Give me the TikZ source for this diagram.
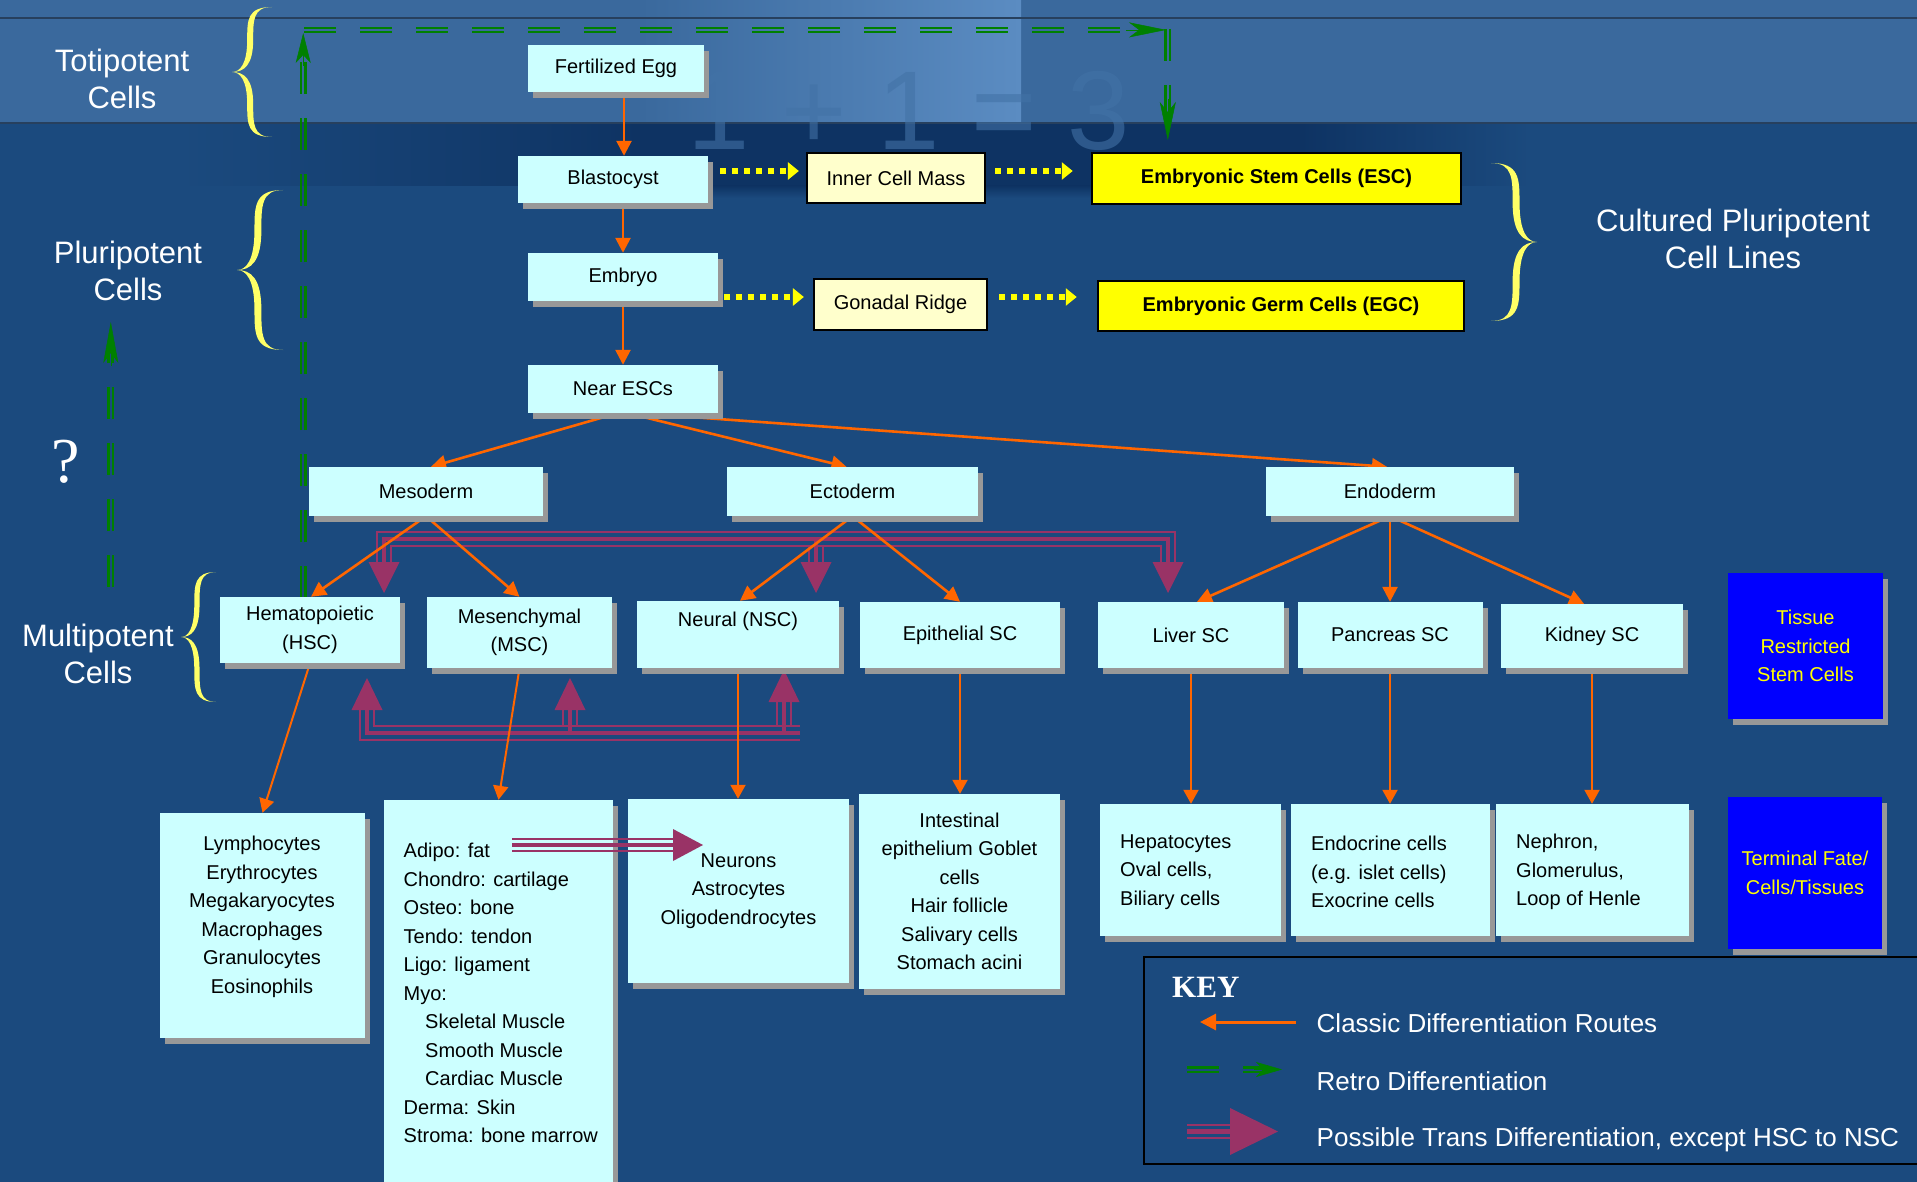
\documentclass[tikz,border=0pt]{standalone}
\usepackage{fontspec}
\setmainfont{Liberation Sans}
\newfontfamily\serifface{Liberation Serif}
\usetikzlibrary{arrows.meta,shadows,calc}
\pgfdeclarelayer{background}
\pgfdeclarelayer{conn}
\pgfsetlayers{background,conn,main}

\definecolor{bgc}{HTML}{1B4A7E}
\definecolor{bandc}{HTML}{3A699D}
\definecolor{bandlight}{HTML}{5B8CC2}
\definecolor{bandline}{HTML}{27405E}
\definecolor{navy}{HTML}{0E3363}
\definecolor{cyanbox}{HTML}{CCFFFF}
\definecolor{shadowc}{HTML}{989898}
\definecolor{cream}{HTML}{FFFFCC}
\definecolor{yel}{HTML}{FFFF00}
\definecolor{bluebox}{HTML}{0000FF}
\definecolor{orng}{HTML}{FF6600}
\definecolor{purp}{HTML}{993366}
\definecolor{grn}{HTML}{008000}
\definecolor{bracec}{HTML}{FFFF66}
\definecolor{wm}{HTML}{4272A6}

\newcommand\boxfont{\fontsize{20pt}{28.5pt}\selectfont}
\newcommand\bigfont{\fontsize{31pt}{37pt}\selectfont}

\newcommand\ybrace[4]{%
\begin{scope}[shift={(#1,#2)}, xscale=#3, yscale=#4]
\fill[bracec] (1,-1) .. controls (0.38,-1) and (0.38,-0.8) .. (0.38,-0.5)
 .. controls (0.38,-0.12) and (0.2,0) .. (0,0)
 .. controls (0.2,0) and (0.38,0.12) .. (0.38,0.5)
 .. controls (0.38,0.8) and (0.38,1) .. (1,1)
 .. controls (0.53,1) and (0.53,0.8) .. (0.53,0.5)
 .. controls (0.53,0.1) and (0.3,0) .. (0,0)
 .. controls (0.3,0) and (0.53,-0.1) .. (0.53,-0.5)
 .. controls (0.53,-0.8) and (0.53,-1) .. (1,-1) -- cycle;
\end{scope}}

\tikzset{
  cbox/.style={rectangle, inner sep=0pt, fill=cyanbox, font=\boxfont, align=center,
    drop shadow={shadow xshift=5pt, shadow yshift=-6pt, fill=shadowc, opacity=1}},
  crbox/.style={rectangle, inner sep=0pt, fill=cream, draw=black, line width=2.2pt, font=\boxfont},
  ybox/.style={rectangle, inner sep=0pt, fill=yel, draw=black, line width=2.5pt, font=\boxfont\bfseries},
  bbox/.style={rectangle, inner sep=0pt, fill=bluebox, text=yel, font=\boxfont, align=center,
    drop shadow={shadow xshift=5pt, shadow yshift=-6pt, fill=shadowc, opacity=1}},
  lbl/.style={inner sep=0pt, font=\boxfont, align=center},
  lbll/.style={inner sep=0pt, font=\boxfont, align=left, anchor=west},
  bigtxt/.style={inner sep=0pt, text=white, font=\bigfont, align=center},
  legtxt/.style={inner sep=0pt, text=white, font=\fontsize{26pt}{30pt}\selectfont, anchor=base west},
  oarr/.style={draw=orng, line width=2.6pt, -{Triangle[length=15pt,width=15pt]}},
  oarrt/.style={draw=orng, line width=2pt, -{Triangle[length=14pt,width=15pt]}},
  ydot/.style={draw=yel, line width=6pt, dash pattern=on 6pt off 6pt, -{Triangle[length=11pt,width=17pt]}},
  gline/.style={draw=grn, line width=2.4pt, dash pattern=on 32pt off 24pt},
  pthin/.style={draw=purp, line width=2.2pt},
  pthick/.style={draw=purp, line width=4.5pt},
}

\begin{document}
\begin{tikzpicture}[x=1pt, y=-1pt]
\useasboundingbox (0,0) rectangle (1917,1182);

% ---------- background ----------
\begin{pgfonlayer}{background}
\fill[bgc] (0,0) rectangle (1917,1182);
\fill[bandc] (0,0) rectangle (1917,123);
\shade[left color=bandc, right color=bandlight] (640,0) rectangle (1021,123);
\shade[left color=bgc, right color=navy] (180,124) rectangle (640,186);
\fill[navy] (640,124) rectangle (1300,186);
\shade[left color=navy, right color=bgc] (1300,124) rectangle (1530,186);
\shade[top color=navy, bottom color=bgc] (640,186) rectangle (1300,198);
\draw[bandline, line width=2pt] (0,18) -- (1917,18);
\draw[bandline, line width=2pt] (0,123) -- (1917,123);
\node[text=wm, opacity=0.6, font=\fontsize{112pt}{112pt}\selectfont, inner sep=0pt] (wmark) at (909,111) {1 + 1 = 3};
\end{pgfonlayer}

% ---------- braces and side labels ----------
\ybrace{232}{72}{40}{65}
\ybrace{237}{270}{46}{80}
\ybrace{181}{637}{35}{65}
\ybrace{1537}{242}{-46}{79}

\node[bigtxt] (toti) at (122,79) {Totipotent\\Cells};
\node[bigtxt] (pluri) at (128,271) {Pluripotent\\Cells};
\node[bigtxt] (multi) at (98,654) {Multipotent\\Cells};
\node[bigtxt] (cult) at (1733,239) {Cultured Pluripotent\\Cell Lines};
\node[text=white, font=\serifface\fontsize{64pt}{64pt}\selectfont, inner sep=0pt] (qm) at (66,462) {?};

% ---------- boxes ----------
\node[cbox, minimum width=176pt, minimum height=47pt] (fegg) at (616,68.5) {Fertilized Egg};
\node[cbox, minimum width=190pt, minimum height=47pt] (blast) at (613,179.5) {Blastocyst};
\node[cbox, minimum width=190pt, minimum height=48pt] (embryo) at (623,277) {Embryo};
\node[cbox, minimum width=190pt, minimum height=48pt] (nesc) at (623,389) {Near ESCs};
\node[crbox, minimum width=178pt, minimum height=50pt] (icm) at (896,178) {Inner Cell Mass};
\node[crbox, minimum width=173pt, minimum height=51pt] (gonad) at (900.5,304.5) {Gonadal Ridge};
\node[ybox, minimum width=369pt, minimum height=51pt] (esc) at (1276.5,178.5) {Embryonic Stem Cells (ESC)};
\node[ybox, minimum width=366pt, minimum height=50pt] (egc) at (1281,306) {Embryonic Germ Cells (EGC)};

\node[cbox, minimum width=234pt, minimum height=49pt] (meso) at (426,491.5) {Mesoderm};
\node[cbox, minimum width=251pt, minimum height=49pt] (ecto) at (852.5,491.5) {Ectoderm};
\node[cbox, minimum width=248pt, minimum height=49pt] (endo) at (1390,491.5) {Endoderm};

\node[cbox, minimum width=180pt, minimum height=66pt] (hsc) at (310,630) {Hematopoietic\\(HSC)};
\node[cbox, minimum width=185pt, minimum height=71pt] (msc) at (519.5,632.5) {Mesenchymal\\(MSC)};
\node[cbox, minimum width=202pt, minimum height=67pt] (nsc) at (738,634.5) {};
\node[lbl] (nsct) at (738,621) {Neural (NSC)};
\node[cbox, minimum width=200pt, minimum height=66pt] (epi) at (960,635) {Epithelial SC};
\node[cbox, minimum width=186pt, minimum height=66pt] (liver) at (1191,635) {Liver SC};
\node[cbox, minimum width=185pt, minimum height=66pt] (panc) at (1390,635) {Pancreas SC};
\node[cbox, minimum width=182pt, minimum height=64pt] (kidney) at (1592,636) {Kidney SC};
\node[bbox, minimum width=155pt, minimum height=146pt] (tissue) at (1805.5,646) {Tissue\\Restricted\\Stem Cells};

\node[cbox, minimum width=205pt, minimum height=225pt] (lymph) at (262.5,925.5) {};
\node[lbl] (lympht) at (262,917) {Lymphocytes\\Erythrocytes\\Megakaryocytes\\Macrophages\\Granulocytes\\Eosinophils};
\node[cbox, minimum width=229pt, minimum height=400pt] (adipo) at (498.5,1000) {};
\node[lbll] (adipot) at (403.5,993) {Adipo: fat\\Chondro: cartilage\\Osteo: bone\\Tendo: tendon\\Ligo: ligament\\Myo:\\\hspace*{21.5pt}Skeletal Muscle\\\hspace*{21.5pt}Smooth Muscle\\\hspace*{21.5pt}Cardiac Muscle\\Derma: Skin\\Stroma: bone marrow};
\node[cbox, minimum width=221pt, minimum height=184pt] (neur) at (738.5,891) {Neurons\\Astrocytes\\Oligodendrocytes};
\node[cbox, minimum width=201pt, minimum height=195pt] (intest) at (959.5,891.5) {Intestinal\\epithelium Goblet\\cells\\Hair follicle\\Salivary cells\\Stomach acini};
\node[cbox, minimum width=181pt, minimum height=132pt] (hepat) at (1190.5,870) {};
\node[lbll] (hepatt) at (1120,872) {Hepatocytes\\Oval cells,\\Biliary cells};
\node[cbox, minimum width=199pt, minimum height=132pt] (endoc) at (1390,870) {};
\node[lbll] (endoct) at (1311,872) {Endocrine cells\\(e.g. islet cells)\\Exocrine cells};
\node[cbox, minimum width=193pt, minimum height=132pt] (nephr) at (1592.5,870) {};
\node[lbll] (nephrt) at (1516,872) {Nephron,\\Glomerulus,\\Loop of Henle};
\node[bbox, minimum width=154pt, minimum height=152pt] (term) at (1805,873) {Terminal Fate/\\Cells/Tissues};

% ---------- key ----------
\node[draw=black, line width=2pt, minimum width=781pt, minimum height=207pt, inner sep=0pt] (key) at (1534.5,1060.5) {};
\node[anchor=west, text=white, font=\serifface\bfseries\fontsize{31pt}{31pt}\selectfont, inner sep=0pt] (keyt) at (1172,987) {KEY};
\coordinate (lo1) at (1296,1022);
\coordinate (lo2) at (1200,1022);
\draw[draw=orng, line width=3pt, -{Triangle[length=16pt,width=16pt]}] (lo1) -- (lo2);
\node[legtxt] (leg1) at (1316.5,1032) {Classic Differentiation Routes};
\draw[grn, line width=2.4pt] (1187,1067.3) -- (1219,1067.3);
\draw[grn, line width=2.4pt] (1187,1071.8) -- (1219,1071.8);
\draw[grn, line width=2.4pt] (1243,1067.3) -- (1262,1067.3);
\draw[grn, line width=2.4pt] (1243,1071.8) -- (1262,1071.8);
\coordinate (lg1) at (1254,1069.5);
\coordinate (lg2) at (1282,1069.5);
\draw[grn, line width=0.5pt, -{Stealth[length=26pt,width=15pt,inset=7pt]}] (lg1) -- (lg2);
\node[legtxt] (leg2) at (1316.5,1090) {Retro Differentiation};
\draw[pthin] (1187,1125) -- (1233,1125);
\draw[pthick] (1187,1131.5) -- (1233,1131.5);
\draw[pthin] (1187,1138) -- (1233,1138);
\fill[purp] (1230,1108) -- (1230,1155) -- (1278,1131.5) -- cycle;
\node[legtxt] (leg3) at (1316.5,1146) {Possible Trans Differentiation, except HSC to NSC};

% ---------- trans differentiation: adipo -> neurons (on top of boxes) ----------
\draw[pthin] (512,839) -- (675,839);
\draw[pthick] (512,845) -- (675,845);
\draw[pthin] (512,851) -- (675,851);
\fill[purp] (673,829) -- (673,861) -- (703,845) -- cycle;

% ---------- connectors ----------
\begin{pgfonlayer}{conn}
% retro differentiation (green)
\draw[gline] (301,598) -- (301,62);
\draw[gline] (305.5,598) -- (305.5,62);
\draw[grn, line width=0.5pt, -{Stealth[length=30pt,width=15pt,inset=8pt]}] (303.2,66) -- (303.2,33);
\draw[gline] (304,27.8) -- (1130,27.8);
\draw[gline] (304,32) -- (1130,32);
\draw[grn, line width=0.5pt, -{Stealth[length=37pt,width=15pt,inset=10pt]}] (1126,29.9) -- (1166,29.9);
\draw[gline] (1165.5,29) -- (1165.5,117);
\draw[gline] (1170,29) -- (1170,117);
\draw[grn, line width=0.5pt, -{Stealth[length=38pt,width=16pt,inset=10pt]}] (1167.8,99) -- (1167.8,140);
\draw[gline] (108.5,587) -- (108.5,352);
\draw[gline] (113,587) -- (113,352);
\draw[grn, line width=0.5pt, -{Stealth[length=41pt,width=15pt,inset=10pt]}] (110.8,366) -- (110.8,322);

% trans differentiation (purple), top bus
\draw[pthin] (377,563) -- (377,532) -- (1175,532) -- (1175,563);
\draw[pthick] (384,563) -- (384,539) -- (1168,539) -- (1168,563);
\draw[pthin] (391,563) -- (391,546) -- (1161,546) -- (1161,563);
\draw[pthin] (809,546) -- (809,563);
\draw[pthick] (816,539) -- (816,563);
\draw[pthin] (823,546) -- (823,563);
\fill[purp] (368.5,562) -- (399.5,562) -- (384,593) -- cycle;
\fill[purp] (800.5,562) -- (831.5,562) -- (816,593) -- cycle;
\fill[purp] (1152.5,562) -- (1183.5,562) -- (1168,593) -- cycle;
% bottom bus
\draw[pthin] (360,709) -- (360,740) -- (800,740);
\draw[pthick] (367,709) -- (367,733) -- (800,733);
\draw[pthin] (374,709) -- (374,726) -- (800,726);
\draw[pthin] (563,726) -- (563,709);
\draw[pthick] (570,733) -- (570,709);
\draw[pthin] (577,726) -- (577,709);
\draw[pthin] (777,726) -- (777,701);
\draw[pthick] (784,733) -- (784,701);
\draw[pthin] (791,726) -- (791,701);
\fill[purp] (351.5,710) -- (382.5,710) -- (367,678) -- cycle;
\fill[purp] (554.5,710) -- (585.5,710) -- (570,678) -- cycle;
\fill[purp] (768.5,702) -- (799.5,702) -- (784,670) -- cycle;

% classic differentiation (orange)
\draw[oarr] ([xshift=8pt]fegg.south) -- ([xshift=8pt]fegg.south |- blast.north);
\draw[oarr] (embryo.north |- blast.south) -- (embryo.north);
\draw[oarr] (embryo.south) -- (nesc.north);
\draw[oarr] ([xshift=-16pt,yshift=-3pt]nesc.south) -- ([xshift=5pt]meso.north);
\draw[oarr] ([xshift=17pt,yshift=-3pt]nesc.south) -- ([xshift=-6pt]ecto.north);
\draw[oarr] ([xshift=56pt,yshift=-3pt]nesc.south) -- ([xshift=-3pt]endo.north);
\draw[oarr] (meso.south) -- ([xshift=1pt]hsc.north);
\draw[oarr] (meso.south) -- (msc.north);
\draw[oarr] (ecto.south) -- ([xshift=2pt]nsc.north);
\draw[oarr] (ecto.south) -- (epi.north);
\draw[oarr] (endo.south) -- ([xshift=6pt]liver.north);
\draw[oarr] (endo.south) -- (panc.north);
\draw[oarr] (endo.south) -- ([xshift=-8pt]kidney.north);
\draw[oarrt] (hsc.south) -- (lymph.north);
\draw[oarrt] (msc.south) -- (adipo.north);
\draw[oarrt] (nsc.south) -- (nsc.south |- neur.north);
\draw[oarrt] (epi.south) -- (epi.south |- intest.north);
\draw[oarrt] (liver.south) -- (liver.south |- hepat.north);
\draw[oarrt] (panc.south) -- (panc.south |- endoc.north);
\draw[oarrt] (kidney.south) -- (kidney.south |- nephr.north);

% derivation (yellow dotted)
\draw[ydot, shorten <=12pt, shorten >=7pt] ([yshift=8.5pt]blast.east) -- ([yshift=8.5pt]blast.east -| icm.west);
\draw[ydot, shorten <=9pt, shorten >=18pt] ([yshift=7pt]icm.east) -- ([yshift=7pt]icm.east -| esc.west);
\draw[ydot, shorten <=6pt, shorten >=9pt] ([yshift=-20pt]embryo.east) -- ([yshift=-20pt]embryo.east -| gonad.west);
\draw[ydot, shorten <=11pt, shorten >=20pt] ([yshift=7.5pt]gonad.east) -- ([yshift=7.5pt]gonad.east -| egc.west);
\end{pgfonlayer}
\end{tikzpicture}
\end{document}
